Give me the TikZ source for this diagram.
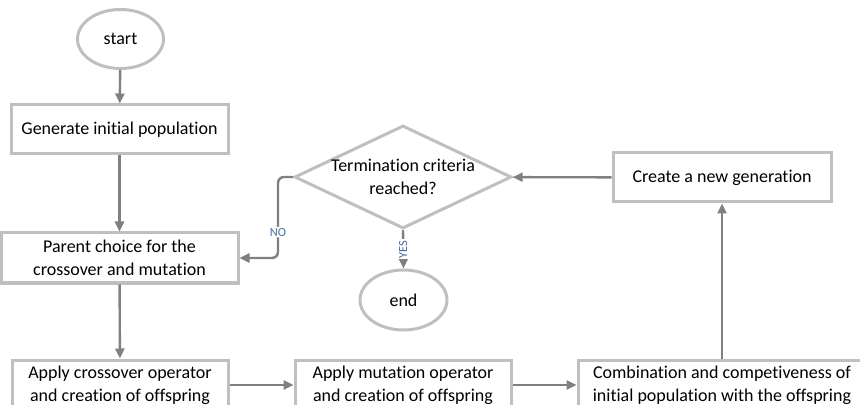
\documentclass[tikz,border=0pt]{standalone}
\usepackage{fontspec}
\setmainfont{Carlito}[Ligatures={NoCommon}]
\usepackage{tikz}
\usetikzlibrary{arrows.meta,shapes.geometric}
\definecolor{boxline}{RGB}{191,191,191}
\definecolor{linkgray}{RGB}{128,128,128}
\definecolor{answerblue}{RGB}{68,110,158}

\tikzset{
    stepbox/.style={draw=boxline, line width=1.5pt, fill=white, align=center,
        inner sep=0pt, minimum width=108pt, minimum height=25pt},
    terminal/.style={ellipse, draw=boxline, line width=1.5pt, fill=white,
        inner sep=0pt, minimum width=43pt, minimum height=29.5pt},
    decision/.style={diamond, draw=boxline, line width=1.5pt, fill=white, align=center,
        aspect=2.1, inner sep=-2pt, minimum width=108.5pt, minimum height=51.5pt},
    link/.style={draw=linkgray, line width=1.2pt, -{Triangle[length=5pt,width=4.5pt]}},
    answer/.style={text=answerblue, font=\fontsize{6.2}{6.5}\selectfont, fill=white, inner sep=0.6pt}
}

\begin{document}
\begin{tikzpicture}[x=0.5pt, y=-0.5pt, font=\fontsize{9}{11.6}\selectfont]
    %% Frame
    \useasboundingbox (0,0) rectangle (860,405);
    \clip (0,0) rectangle (860,405);
    %% Left column
    \node[terminal] (start) at (120.5,39) {start};
    \node[stepbox, minimum width=108.5pt, minimum height=24.5pt] (init) at (119.5,129.5) {Generate initial population};
    \node[stepbox, minimum width=118.5pt] (parents) at (119.5,258) {Parent choice for the\\crossover and mutation};
    %% Bottom row
    \node[stepbox] (crossover) at (120,385) {Apply crossover operator\\and creation of offspring};
    \node[stepbox] (mutation) at (403,385) {Apply mutation operator\\and creation of offspring};
    \node[stepbox, minimum width=144pt] (combine) at (722,385) {Combination and competiveness of\\initial population with the offspring};
    %% Loop
    \node[stepbox, minimum width=109pt, minimum height=24.5pt] (newgen) at (722,177.5) {Create a new generation};
    \node[decision] (criteria) at (403,177) {Termination criteria\\reached?};
    \node[terminal, minimum width=43.5pt, minimum height=30pt] (finish) at (403.5,300) {end};
    %% Connectors
    \draw[link] (start) -- (init);
    \draw[link] (init) -- (parents);
    \draw[link] (parents) -- (crossover);
    \draw[link] (crossover) -- (mutation);
    \draw[link] (mutation) -- (combine);
    \draw[link] (combine) -- (newgen);
    \draw[link] (newgen) -- (criteria);
    \draw[link, rounded corners=3pt] (criteria.west) -- ++(-15,0) |- node[answer, pos=0.34] {NO} (parents.east);
    \draw[link] (criteria.south) -- node[answer, rotate=90] {YES} (finish.north);
\end{tikzpicture}
\end{document}
